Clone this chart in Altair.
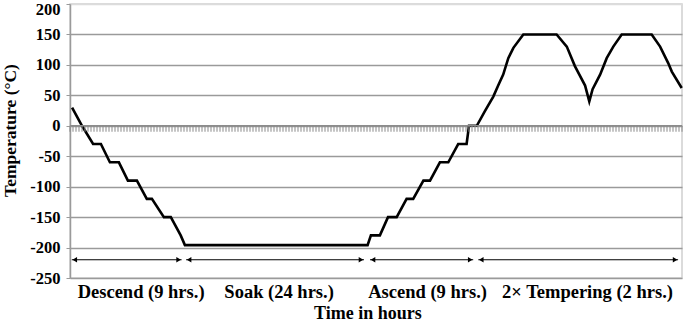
import altair as alt
import pandas as pd

# Temperature profile (x = sample index along the category axis, y = °C)
time_idx = [0.7, 4.0, 7.7, 10.3, 13.3, 16.3, 19.3, 22.3, 25.6, 27.3, 31.3, 33.6, 36.9, 38.3,
            99.2, 100.3, 103.3, 106.0, 108.9, 112.2, 114.4, 117.8, 120.0, 123.3, 126.1, 129.4,
            132.2, 133.0, 135.6, 138.3, 141.1, 142.8, 144.4, 146.1, 147.8, 151.1, 162.2, 165.6,
            168.3, 171.7, 173.1, 174.2, 176.7, 178.9, 181.1, 183.9, 193.9, 196.7, 199.4, 200.6, 203.9]
temp_c = [30, 0, -30, -30, -60, -60, -90, -90, -120, -120, -150, -150, -180, -196,
          -196, -180, -180, -150, -150, -120, -120, -90, -90, -60, -60, -30,
          -30, 0, 0, 24, 48, 67, 84, 111, 128, 150, 150, 130,
          98, 66, 40, 60, 84, 111, 130, 150, 150, 130, 103, 89, 62]

phase_names = ["Descend (9 hrs.)", "Soak (24 hrs.)", "Ascend (9 hrs.)", "2\u00d7 Tempering (2 hrs.)"]
phase_start = [0.6, 38.7, 100.0, 136.1]
phase_end = [37.2, 98.0, 134.4, 202.7]
phase_label_x = [23.7, 69.7, 119.2, 172.5]
arrow_level = [-220, -220, -220, -220]

y_ticks = [-250, -200, -150, -100, -50, 0, 50, 100, 150, 200]
x_category_ticks = list(range(0, 205))   # small category ticks on the 0 °C axis
x_title = ["Time in hours"]
x_title_pos = [99.3]

FONT = "Liberation Serif"

line_df = pd.DataFrame({"t": time_idx, "temp": temp_c})
phase_df = pd.DataFrame({"name": phase_names, "start": phase_start, "end": phase_end,
                         "lx": phase_label_x, "lvl": arrow_level})
title_df = pd.DataFrame({"txt": x_title, "x": x_title_pos})
ticks_df = pd.DataFrame({"tx": x_category_ticks})
zero_df = pd.DataFrame({"a": [0], "b": [204], "z": [0]})

xscale = alt.Scale(domain=[0, 204], nice=False, zero=False)
yscale = alt.Scale(domain=[-250, 200], nice=False, zero=False)

yaxis = alt.Axis(values=y_ticks, title="Temperature (\u00b0C)",
                 grid=True, labelOverlap=False,
                 labelExpr="toString(datum.value)",
                 gridColor=alt.condition("datum.value == 200", alt.value("#dcdcdc"), alt.value("#9a9a9a")),
                 gridWidth=1.5,
                 domainColor="#9a9a9a", domainWidth=1.5,
                 tickColor="#9a9a9a", tickSize=4,
                 labelFont=FONT, labelFontSize=16.5, labelFontWeight="bold",
                 labelColor="black", labelPadding=6,
                 labelOffset=alt.condition("datum.value == 200", alt.value(5), alt.value(0)),
                 titleFont=FONT, titleFontSize=17.5, titleFontWeight="bold",
                 titleColor="black", titleX=-60, titleY=126,
                 titleAlign="center", titleBaseline="middle")

line = alt.Chart(line_df).mark_line(color="black", strokeWidth=2.6).encode(
    x=alt.X("t:Q", scale=xscale, axis=None),
    y=alt.Y("temp:Q", scale=yscale, axis=yaxis),
)

zero_line = alt.Chart(zero_df).mark_rule(color="#8c8c8c", strokeWidth=1.5).encode(
    x=alt.X("a:Q", scale=xscale, axis=None), x2="b:Q", y=alt.Y("z:Q", scale=yscale, axis=yaxis))

cat_ticks = alt.Chart(ticks_df).mark_tick(color="#8a8a8a", orient="vertical", size=6,
                                          thickness=1, yOffset=3, opacity=1).encode(
    x=alt.X("tx:Q", scale=xscale, axis=None), y=alt.datum(0, scale=yscale, axis=yaxis))

arrows = alt.Chart(phase_df).mark_rule(color="black", strokeWidth=1.2).encode(
    x=alt.X("start:Q", scale=xscale, axis=None), x2="end:Q",
    y=alt.Y("lvl:Q", scale=yscale, axis=yaxis))

heads_left = alt.Chart(phase_df).mark_point(shape="triangle-left", filled=True, color="black",
                                            size=28, opacity=1, xOffset=3).encode(
    x=alt.X("start:Q", scale=xscale, axis=None), y=alt.Y("lvl:Q", scale=yscale, axis=yaxis))

heads_right = alt.Chart(phase_df).mark_point(shape="triangle-right", filled=True, color="black",
                                             size=28, opacity=1, xOffset=-3).encode(
    x=alt.X("end:Q", scale=xscale, axis=None), y=alt.Y("lvl:Q", scale=yscale, axis=yaxis))

labels = alt.Chart(phase_df).mark_text(font=FONT, fontSize=18.5, fontWeight="bold", color="black",
                                       baseline="middle").encode(
    x=alt.X("lx:Q", scale=xscale, axis=None), y=alt.value(288), text="name:N")

xtitle = alt.Chart(title_df).mark_text(font=FONT, fontSize=18, fontWeight="bold", color="black",
                                       baseline="middle").encode(
    x=alt.X("x:Q", scale=xscale, axis=None), y=alt.value(310), text="txt:N")

chart = alt.layer(line, zero_line, cat_ticks, arrows, heads_left, heads_right, labels, xtitle).properties(
    width=612, height=274,
    autosize=alt.AutoSizeParams(type="none"),
    padding={"left": 70, "top": 4, "right": 3, "bottom": 46},
    background="white",
).configure_view(stroke="#d0d0d0", strokeWidth=1.5).configure_axis(labelOverlap=False)

chart.save("out.html", embed_options={"renderer": "svg", "actions": False})
